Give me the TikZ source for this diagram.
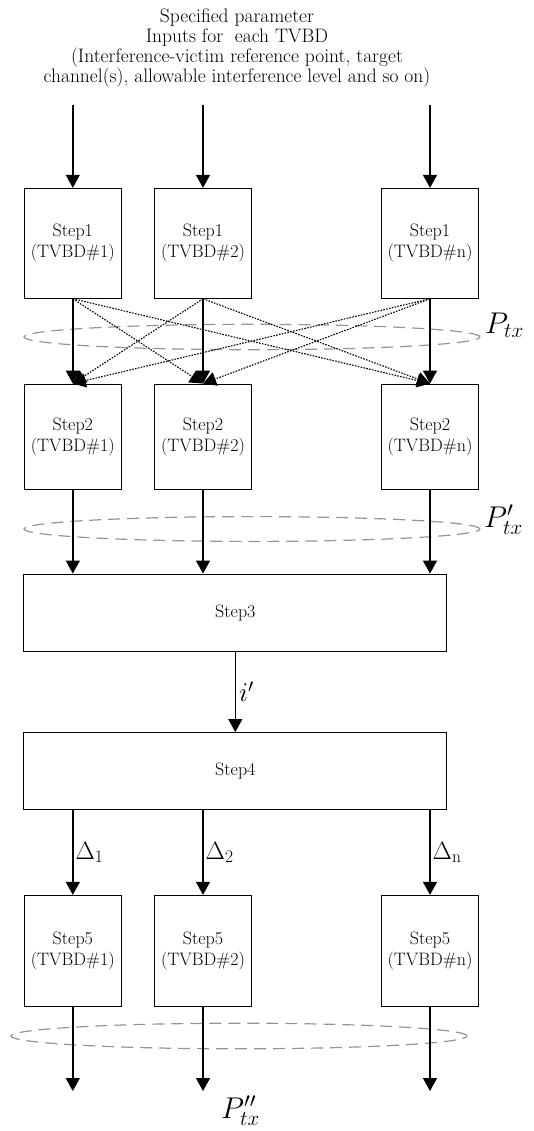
\RequirePackage{fix-cm}
\documentclass[tikz,border=0pt]{standalone}
\usepackage{fontspec}
\usepackage{tikz}
\usetikzlibrary{arrows.meta}

\begin{document}
\begin{tikzpicture}[x=1pt, y=-1pt,
    stepbox/.style={shape=rectangle, draw, line width=0.9pt, minimum width=97pt, minimum height=110pt, align=center, inner sep=0pt, font=\fontsize{18}{21}\selectfont},
    widebox/.style={shape=rectangle, draw, line width=0.9pt, minimum width=423pt, minimum height=77pt, inner sep=0pt, font=\fontsize{18}{21}\selectfont},
    flow/.style={line width=1.4pt, -{Triangle[length=13pt,width=14pt]}},
    cross/.style={line width=1.1pt, dash pattern=on 1.6pt off 1.3pt, -{Triangle[length=13pt,width=14pt]}},
    group/.style={draw=black!42, dash pattern=on 12pt off 7pt, line width=1.2pt},
    tag/.style={font=\fontsize{30}{32}\selectfont, inner sep=0pt},
    delta/.style={font=\fontsize{25}{27}\selectfont, inner sep=2pt}]
    \useasboundingbox (0,0) rectangle (534,1131);
    	% Groups of transmit powers:
    	\draw[group] (252,337) ellipse [x radius=228pt, y radius=12.7pt];
    	\draw[group] (252,529) ellipse [x radius=228pt, y radius=12.4pt];
    	\draw[group] (239,1036) ellipse [x radius=228pt, y radius=12.8pt];
    	\node[tag, anchor=base west] (ptx) at (485,333) {$P_{tx}$};
    	\node[tag, anchor=base west] (pptx) at (484,527) {$P'_{tx}$};
    	\node[tag, anchor=base west] (ppptx) at (221,1118) {$P''_{tx}$};
    	% Inputs:
    	\node[align=center, inner sep=0pt, font=\fontsize{19.5}{20}\selectfont] (inputs) at (237,48) {Specified parameter\\Inputs for \ each TVBD\\(Interference-victim reference point, target\\channel(s), allowable interference level and so on)};
    	\coordinate (in1) at (72.8,105);
    	\coordinate (in2) at (203,105);
    	\coordinate (inn) at (430,105);
    	% Steps:
    	\node[stepbox] (s1a) at (72.8,243.3) {Step1\\(TVBD\#1)};
    	\node[stepbox] (s1b) at (203,243.3) {Step1\\(TVBD\#2)};
    	\node[stepbox] (s1n) at (430,243.3) {Step1\\(TVBD\#n)};
    	\node[stepbox, minimum height=105pt] (s2a) at (72.8,436.5) {Step2\\(TVBD\#1)};
    	\node[stepbox, minimum height=105pt] (s2b) at (203,436.5) {Step2\\(TVBD\#2)};
    	\node[stepbox, minimum height=105pt] (s2n) at (430,436.5) {Step2\\(TVBD\#n)};
    	\node[widebox] (s3) at (235.3,612.5) {Step3};
    	\node[widebox] (s4) at (235.3,771) {Step4};
    	\node[stepbox, minimum height=111pt] (s5a) at (72.8,950.8) {Step5\\(TVBD\#1)};
    	\node[stepbox, minimum height=111pt] (s5b) at (203,950.8) {Step5\\(TVBD\#2)};
    	\node[stepbox, minimum height=111pt] (s5n) at (430,950.8) {Step5\\(TVBD\#n)};
    	\coordinate (out1) at (72.8,1091);
    	\coordinate (out2) at (203,1091);
    	\coordinate (outn) at (430,1091);
    	% Arrows:
    	\draw[flow] (in1) -- (s1a.north);
    	\draw[flow] (in2) -- (s1b.north);
    	\draw[flow] (inn) -- (s1n.north);
    	\draw[flow] (s1a.south) -- (s2a.north);
    	\draw[flow] (s1b.south) -- (s2b.north);
    	\draw[flow] (s1n.south) -- (s2n.north);
    	\draw[cross] (s1a.south) -- (s2b.north);
    	\draw[cross] (s1a.south) -- (s2n.north);
    	\draw[cross] (s1b.south) -- (s2a.north);
    	\draw[cross] (s1b.south) -- (s2n.north);
    	\draw[cross] (s1n.south) -- (s2a.north);
    	\draw[cross] (s1n.south) -- (s2b.north);
    	\draw[flow] (s2a.south) -- (s2a.south |- s3.north);
    	\draw[flow] (s2b.south) -- (s2b.south |- s3.north);
    	\draw[flow] (s2n.south) -- (s2n.south |- s3.north);
    	\draw[flow] (s3.south) -- node[right, font=\fontsize{27}{29}\selectfont, inner sep=3pt] (ip) {$i'$} (s4.north);
    	\draw[flow] (s4.south -| s5a.north) -- node[delta, right] (d1) {$\Delta_1$} (s5a.north);
    	\draw[flow] (s4.south -| s5b.north) -- node[delta, right] (d2) {$\Delta_2$} (s5b.north);
    	\draw[flow] (s4.south -| s5n.north) -- node[delta, right] (dn) {$\Delta_\mathrm{n}$} (s5n.north);
    	\draw[flow] (s5a.south) -- (out1);
    	\draw[flow] (s5b.south) -- (out2);
    	\draw[flow] (s5n.south) -- (outn);
    \end{tikzpicture}
\end{document}
